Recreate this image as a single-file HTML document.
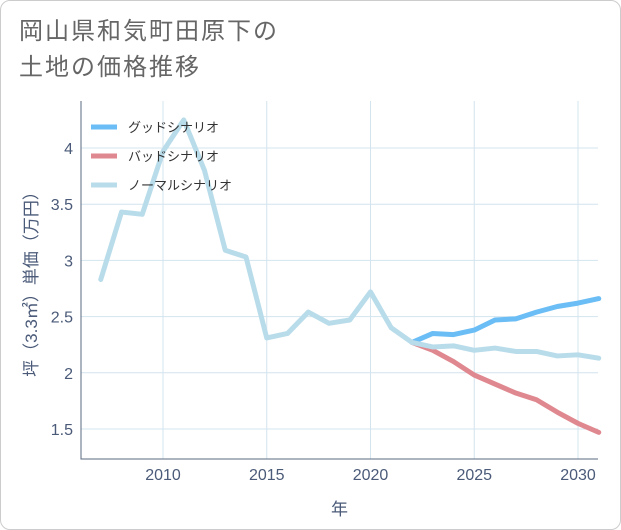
<!DOCTYPE html>
<html><head><meta charset="utf-8"><style>
body{margin:0;background:#fff;}
#card{position:absolute;left:0;top:0;width:619px;height:528px;border:1px solid #ccc;border-radius:10px;background:#fff;overflow:hidden;}
#title{position:absolute;left:18px;top:13px;font:24px "Liberation Sans","Noto Sans CJK JP",sans-serif;color:#666;line-height:36px;letter-spacing:2px;}
svg{position:absolute;left:0;top:0;}
text{font-family:"Liberation Sans","Noto Sans CJK JP",sans-serif;}
</style></head><body>
<div id="card">
<div id="title">岡山県和気町田原下の<br>土地の価格推移</div>
<svg id="chart" width="621" height="530"></svg>
</div>
<script>
const years=[2007,2008,2009,2010,2011,2012,2013,2014,2015,2016,2017,2018,2019,2020,2021,2022,2023,2024,2025,2026,2027,2028,2029,2030,2031];
const normalVals=[2.83,3.43,3.41,3.97,4.25,3.8,3.09,3.03,2.31,2.35,2.54,2.44,2.47,2.72,2.40,2.27,2.23,2.24,2.20,2.22,2.19,2.19,2.15,2.16,2.13];
const futureYears=[2022,2023,2024,2025,2026,2027,2028,2029,2030,2031];
const goodVals=[2.27,2.35,2.34,2.38,2.47,2.48,2.54,2.59,2.62,2.66];
const badVals=[2.27,2.20,2.10,1.98,1.90,1.82,1.76,1.65,1.55,1.47];
const xTicks=[2010,2015,2020,2025,2030];
const yTicks=[1.5,2,2.5,3,3.5,4];
const legendLabels=["グッドシナリオ","バッドシナリオ","ノーマルシナリオ"];
const colors=["#6bbdf5","#e0888f","#b9dcea"];
const L=80,R=597,T=100,B=458;
const xs=y=>162+(y-2010)*(577-162)/20;
const ys=v=>147+(4-v)*(428-147)/2.5;
const svg=document.getElementById('chart');
const NS='http://www.w3.org/2000/svg';
function mk(t,a){const e=document.createElementNS(NS,t);for(const k in a)e.setAttribute(k,a[k]);svg.appendChild(e);return e;}
for(const t of xTicks){const l=mk('line',{x1:xs(t),x2:xs(t),y1:T,y2:B,stroke:'#d3e4ee','stroke-width':1});


const tx=mk('text',{x:xs(t),y:B+21,'text-anchor':'middle','font-size':16,fill:'#4a5a78'});tx.textContent=t;

}
for(const t of yTicks){const l=mk('line',{x1:L,x2:R,y1:ys(t),y2:ys(t),stroke:'#d3e4ee','stroke-width':1});


const tx=mk('text',{x:L-8,y:ys(t)+6,'text-anchor':'end','font-size':16,fill:'#4a5a78'});tx.textContent=t;

}
const ax=mk('path',{d:`M${L},${T}V${B}H${R}`,stroke:'#5a6a80',fill:'none','stroke-width':1});


function line(xv,yv,c,name){const d=xv.map((x,i)=>(i?'L':'M')+xs(x)+','+ys(yv[i])).join('');
const p=mk('path',{d,stroke:c,fill:'none','stroke-width':5,'stroke-linejoin':'round','stroke-linecap':'round'});

}
line(futureYears,goodVals,colors[0],'good-scenario-line');
line(futureYears,badVals,colors[1],'bad-scenario-line');
line(years,normalVals,colors[2],'normal-scenario-line');
legendLabels.forEach((lb,i)=>{const y=126+i*29;
const l=mk('line',{x1:90,x2:116,y1:y,y2:y,stroke:colors[i],'stroke-width':5});


const t=mk('text',{x:127,y:y+5,'font-size':13,fill:'#333'});t.textContent=lb;

});
const xt=mk('text',{x:(L+R)/2,y:514,'text-anchor':'middle','font-size':17,fill:'#4a5a78'});xt.textContent='年';


const yt=mk('text',{x:0,y:0,'text-anchor':'middle','font-size':17,fill:'#4a5a78',transform:`translate(36,${(T+B)/2}) rotate(-90)`});yt.textContent='坪（3.3㎡）単価（万円）';


</script>
</body></html>
